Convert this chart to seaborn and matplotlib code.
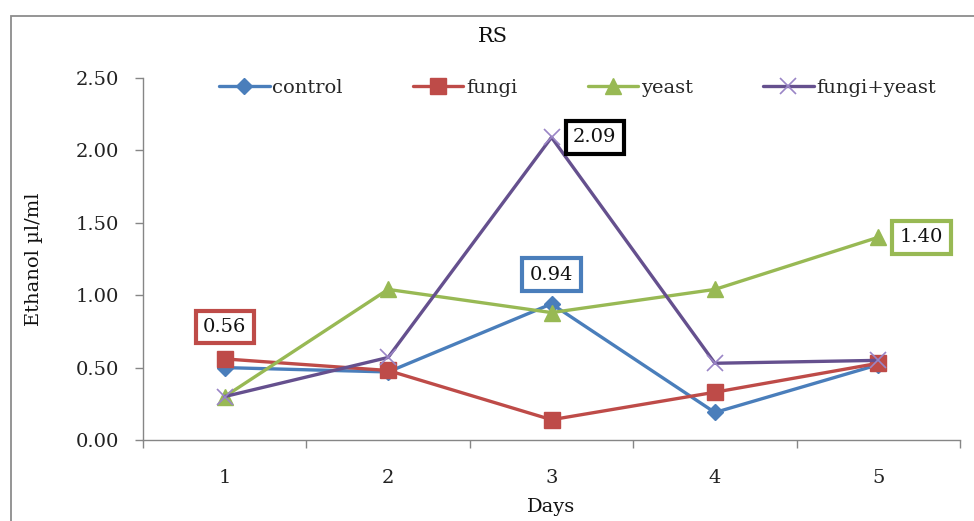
import matplotlib
matplotlib.use("Agg")
import matplotlib.pyplot as plt
from matplotlib.patches import Rectangle
from matplotlib.ticker import FixedLocator
import seaborn as sns
import pandas as pd

# Ethanol yield (µl/ml) per day for each treatment
days = [1, 2, 3, 4, 5]
control = [0.50, 0.47, 0.94, 0.19, 0.52]
fungi = [0.56, 0.48, 0.14, 0.33, 0.53]
yeast = [0.30, 1.04, 0.88, 1.04, 1.40]
fungi_yeast = [0.30, 0.57, 2.09, 0.53, 0.55]
y_ticks = [0.0, 0.5, 1.0, 1.5, 2.0, 2.5]

series = {
    "control": control,
    "fungi": fungi,
    "yeast": yeast,
    "fungi+yeast": fungi_yeast,
}
line_colors = {"control": "#4A7EBB", "fungi": "#BE4B48",
               "yeast": "#98B954", "fungi+yeast": "#65508E"}
marker_colors = {"control": "#4A7EBB", "fungi": "#BE4B48",
                 "yeast": "#98B954", "fungi+yeast": "#9A85C6"}
markers = {"control": "D", "fungi": "s", "yeast": "^", "fungi+yeast": "x"}
marker_sizes = {"control": 8, "fungi": 11, "yeast": 12, "fungi+yeast": 11}

df = pd.DataFrame(
    [(d, name, v) for name, vals in series.items() for d, v in zip(days, vals)],
    columns=["Days", "treatment", "ethanol"],
)

sns.set_theme(style="white")
plt.rcParams["font.family"] = ["DejaVu Serif"]

fig = plt.figure(figsize=(9.74, 5.21), dpi=100)
ax = fig.add_axes([143 / 974, 1 - 440 / 521, (960 - 143) / 974, (440 - 78) / 521])

# outer chart frame
fig.patches.append(Rectangle((11 / 974, -0.2), 1.2, 1 - 16 / 521 + 0.2,
                             transform=fig.transFigure, fill=False,
                             edgecolor="#8C8C8C", linewidth=1.3))

handles = []
for name in series:
    sub = df[df["treatment"] == name]
    sns.lineplot(data=sub, x="Days", y="ethanol", ax=ax,
                 color=line_colors[name], linewidth=2.4,
                 marker=markers[name], markersize=marker_sizes[name],
                 markerfacecolor=marker_colors[name],
                 markeredgecolor=marker_colors[name],
                 markeredgewidth=1.0 if name != "fungi+yeast" else 1.2,
                 label=name, legend=False)
    handles.append(ax.lines[-1])

ax.set_xlim(0.5, 5.5)
ax.set_ylim(0, 2.5)
ax.set_yticks(y_ticks)
ax.set_yticklabels([f"{t:.2f}" for t in y_ticks])
ax.set_xticks(days)
ax.set_xticklabels([str(d) for d in days])
ax.xaxis.set_minor_locator(FixedLocator([0.5, 1.5, 2.5, 3.5, 4.5, 5.5]))

for s in ["top", "right"]:
    ax.spines[s].set_visible(False)
for s in ["left", "bottom"]:
    ax.spines[s].set_color("#868686")
    ax.spines[s].set_linewidth(1.0)

ax.tick_params(axis="x", which="major", length=0, pad=21, labelsize=14,
               colors="#222222")
ax.tick_params(axis="x", which="minor", length=6, width=1.0, color="#868686",
               direction="out", bottom=True)
ax.tick_params(axis="y", which="major", length=6, width=1.0, color="#868686",
               direction="out", left=True, pad=11, labelsize=14,
               labelcolor="#222222")

ax.set_xlabel("Days", fontsize=14, labelpad=8, color="#111111")
ax.set_ylabel("Ethanol µl/ml", fontsize=14, labelpad=24, color="#111111")
fig.text(493 / 974, 1 - 37 / 521, "RS", ha="center", va="center",
         fontsize=15, color="#111111")

ax.legend(handles=handles, labels=list(series), loc="upper center",
          bbox_to_anchor=(0.532, 1.045), ncol=4, frameon=False, fontsize=14,
          handlelength=2.6, handletextpad=0.15, columnspacing=3.6)

# boxed value labels
callouts = [
    ("fungi", 0, "#BE4B48", (0, 23), "center"),
    ("control", 2, "#4A7EBB", (0, 21), "center"),
    ("fungi+yeast", 2, "#000000", (15.5, 0), "left"),
    ("yeast", 4, "#98B954", (15.5, 0), "left"),
]
for name, i, col, off, ha in callouts:
    v = series[name][i]
    ax.annotate(f"{v:.2f}", xy=(days[i], v), xytext=off,
                textcoords="offset points", ha=ha, va="center",
                fontsize=14, color="#111111",
                bbox=dict(boxstyle="square,pad=0.38", facecolor="white",
                          edgecolor=col, linewidth=3))

fig.savefig("out.png", dpi=100)
